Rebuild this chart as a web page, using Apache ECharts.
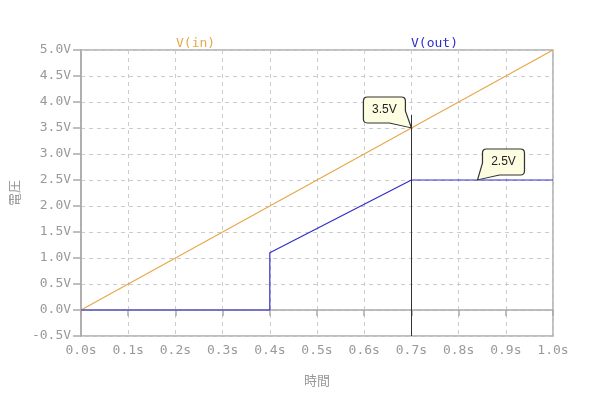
<!DOCTYPE html>
<html>
<head>
<meta charset="utf-8">
<script src="https://cdn.jsdelivr.net/npm/echarts@6/dist/echarts.min.js"></script>
<style>
  html, body { margin: 0; padding: 0; background: #fff; }
  #chart { width: 600px; height: 400px; }
</style>
</head>
<body>
<div id="chart"></div>
<script>
// data
var vinTime = [0, 1.0];
var vinValue = [0, 5.0];
var voutTime = [0, 0.4, 0.4, 0.7, 1.0];
var voutValue = [0, 0, 1.1, 2.5, 2.5];
var cursorTime = 0.7;
var cursorRange = [3.75, -0.5];
var calloutIn = [0.7, 3.5];
var calloutOut = [0.84, 2.5];

var MONO = "'DejaVu Sans Mono', monospace";
var ORANGE = "#e8a84a";
var BLUE = "#3030c8";

function pairs(xs, ys) {
  return xs.map(function (x, i) { return [x, ys[i]]; });
}

// speech bubbles, tip at bottom right / bottom left
var bubbleRight = "path://M4,0 L38,0 Q42,0 42,4 L42,14 L48,31 L26,26 L4,26 Q0,26 0,22 L0,4 Q0,0 4,0 Z";
var bubbleLeft = "path://M9,0 L43,0 Q47,0 47,4 L47,22 Q47,26 43,26 L22,26 L0,31 L5,14 L5,4 Q5,0 9,0 Z";

var bubbleStyle = { color: "#fdfde2", borderColor: "#333", borderWidth: 1 };
var bubbleLabel = {
  show: true,
  position: "inside",
  color: "#222",
  fontFamily: "'Liberation Sans', Arial, sans-serif",
  fontSize: 12
};

var myChart = echarts.init(document.getElementById("chart"));
myChart.setOption({
  animation: false,
  grid: {
    left: 78, right: 47, top: 50, bottom: 64,
    show: true, borderColor: "#aaa", borderWidth: 1.5
  },
  graphic: [
    { type: "text", left: 176, top: 37,
      style: { text: "V(in)", fill: ORANGE, font: "13px " + MONO } },
    { type: "text", left: 411, top: 37,
      style: { text: "V(out)", fill: BLUE, font: "13px " + MONO } }
  ],
  xAxis: {
    type: "value",
    min: 0, max: 1, interval: 0.1,
    name: "時間",
    nameLocation: "middle",
    nameGap: 38,
    nameTextStyle: { color: "#999", fontSize: 13, fontFamily: "'Noto Sans CJK JP', sans-serif" },
    axisLine: { lineStyle: { color: "#aaa", width: 1.5 } },
    axisTick: { show: true, length: 6, lineStyle: { color: "#aaa", width: 1.5 } },
    axisLabel: {
      color: "#999", fontFamily: MONO, fontSize: 13, margin: 8,
      formatter: function (v) { return v.toFixed(1) + "s"; }
    },
    splitLine: { show: true, lineStyle: { color: "#ccc", type: [4, 4] } }
  },
  yAxis: {
    type: "value",
    min: -0.5, max: 5, interval: 0.5,
    name: "電圧",
    nameLocation: "middle",
    nameGap: 49,
    nameTextStyle: { color: "#999", fontSize: 13, fontFamily: "'Noto Sans CJK JP', sans-serif" },
    axisLine: { show: true, lineStyle: { color: "#aaa", width: 1.5 } },
    axisTick: { show: true, length: 8, lineStyle: { color: "#aaa", width: 1.5 } },
    axisLabel: {
      color: "#999", fontFamily: MONO, fontSize: 13, margin: 10,
      formatter: function (v) { return v.toFixed(1) + "V"; }
    },
    splitLine: { show: true, lineStyle: { color: "#ccc", type: [4, 4] } }
  },
  series: [
    {
      name: "V(in)",
      type: "line",
      data: pairs(vinTime, vinValue),
      showSymbol: false,
      lineStyle: { color: ORANGE, width: 1.2 },
      itemStyle: { color: ORANGE },
      markPoint: {
        z: 10,
        symbol: bubbleRight,
        symbolSize: [48, 31],
        symbolOffset: [-24, -15.5],
        itemStyle: bubbleStyle,
        label: Object.assign({}, bubbleLabel, { offset: [-3, -2.5] }),
        data: [{ coord: calloutIn, value: calloutIn[1].toFixed(1) + "V" }]
      }
    },
    {
      name: "V(out)",
      type: "line",
      data: pairs(voutTime, voutValue),
      showSymbol: false,
      lineStyle: { color: BLUE, width: 1.2 },
      itemStyle: { color: BLUE },
      markLine: {
        silent: true,
        symbol: "none",
        label: { show: false },
        lineStyle: { color: "#333", width: 1, type: "solid" },
        data: [[{ coord: [cursorTime, cursorRange[0]] }, { coord: [cursorTime, cursorRange[1]] }]]
      },
      markPoint: {
        z: 10,
        symbol: bubbleLeft,
        symbolSize: [47, 31],
        symbolOffset: [23.5, -15.5],
        itemStyle: bubbleStyle,
        label: Object.assign({}, bubbleLabel, { offset: [2.5, -2.5] }),
        data: [{ coord: calloutOut, value: calloutOut[1].toFixed(1) + "V" }]
      }
    }
  ]
});
</script>
</body>
</html>
